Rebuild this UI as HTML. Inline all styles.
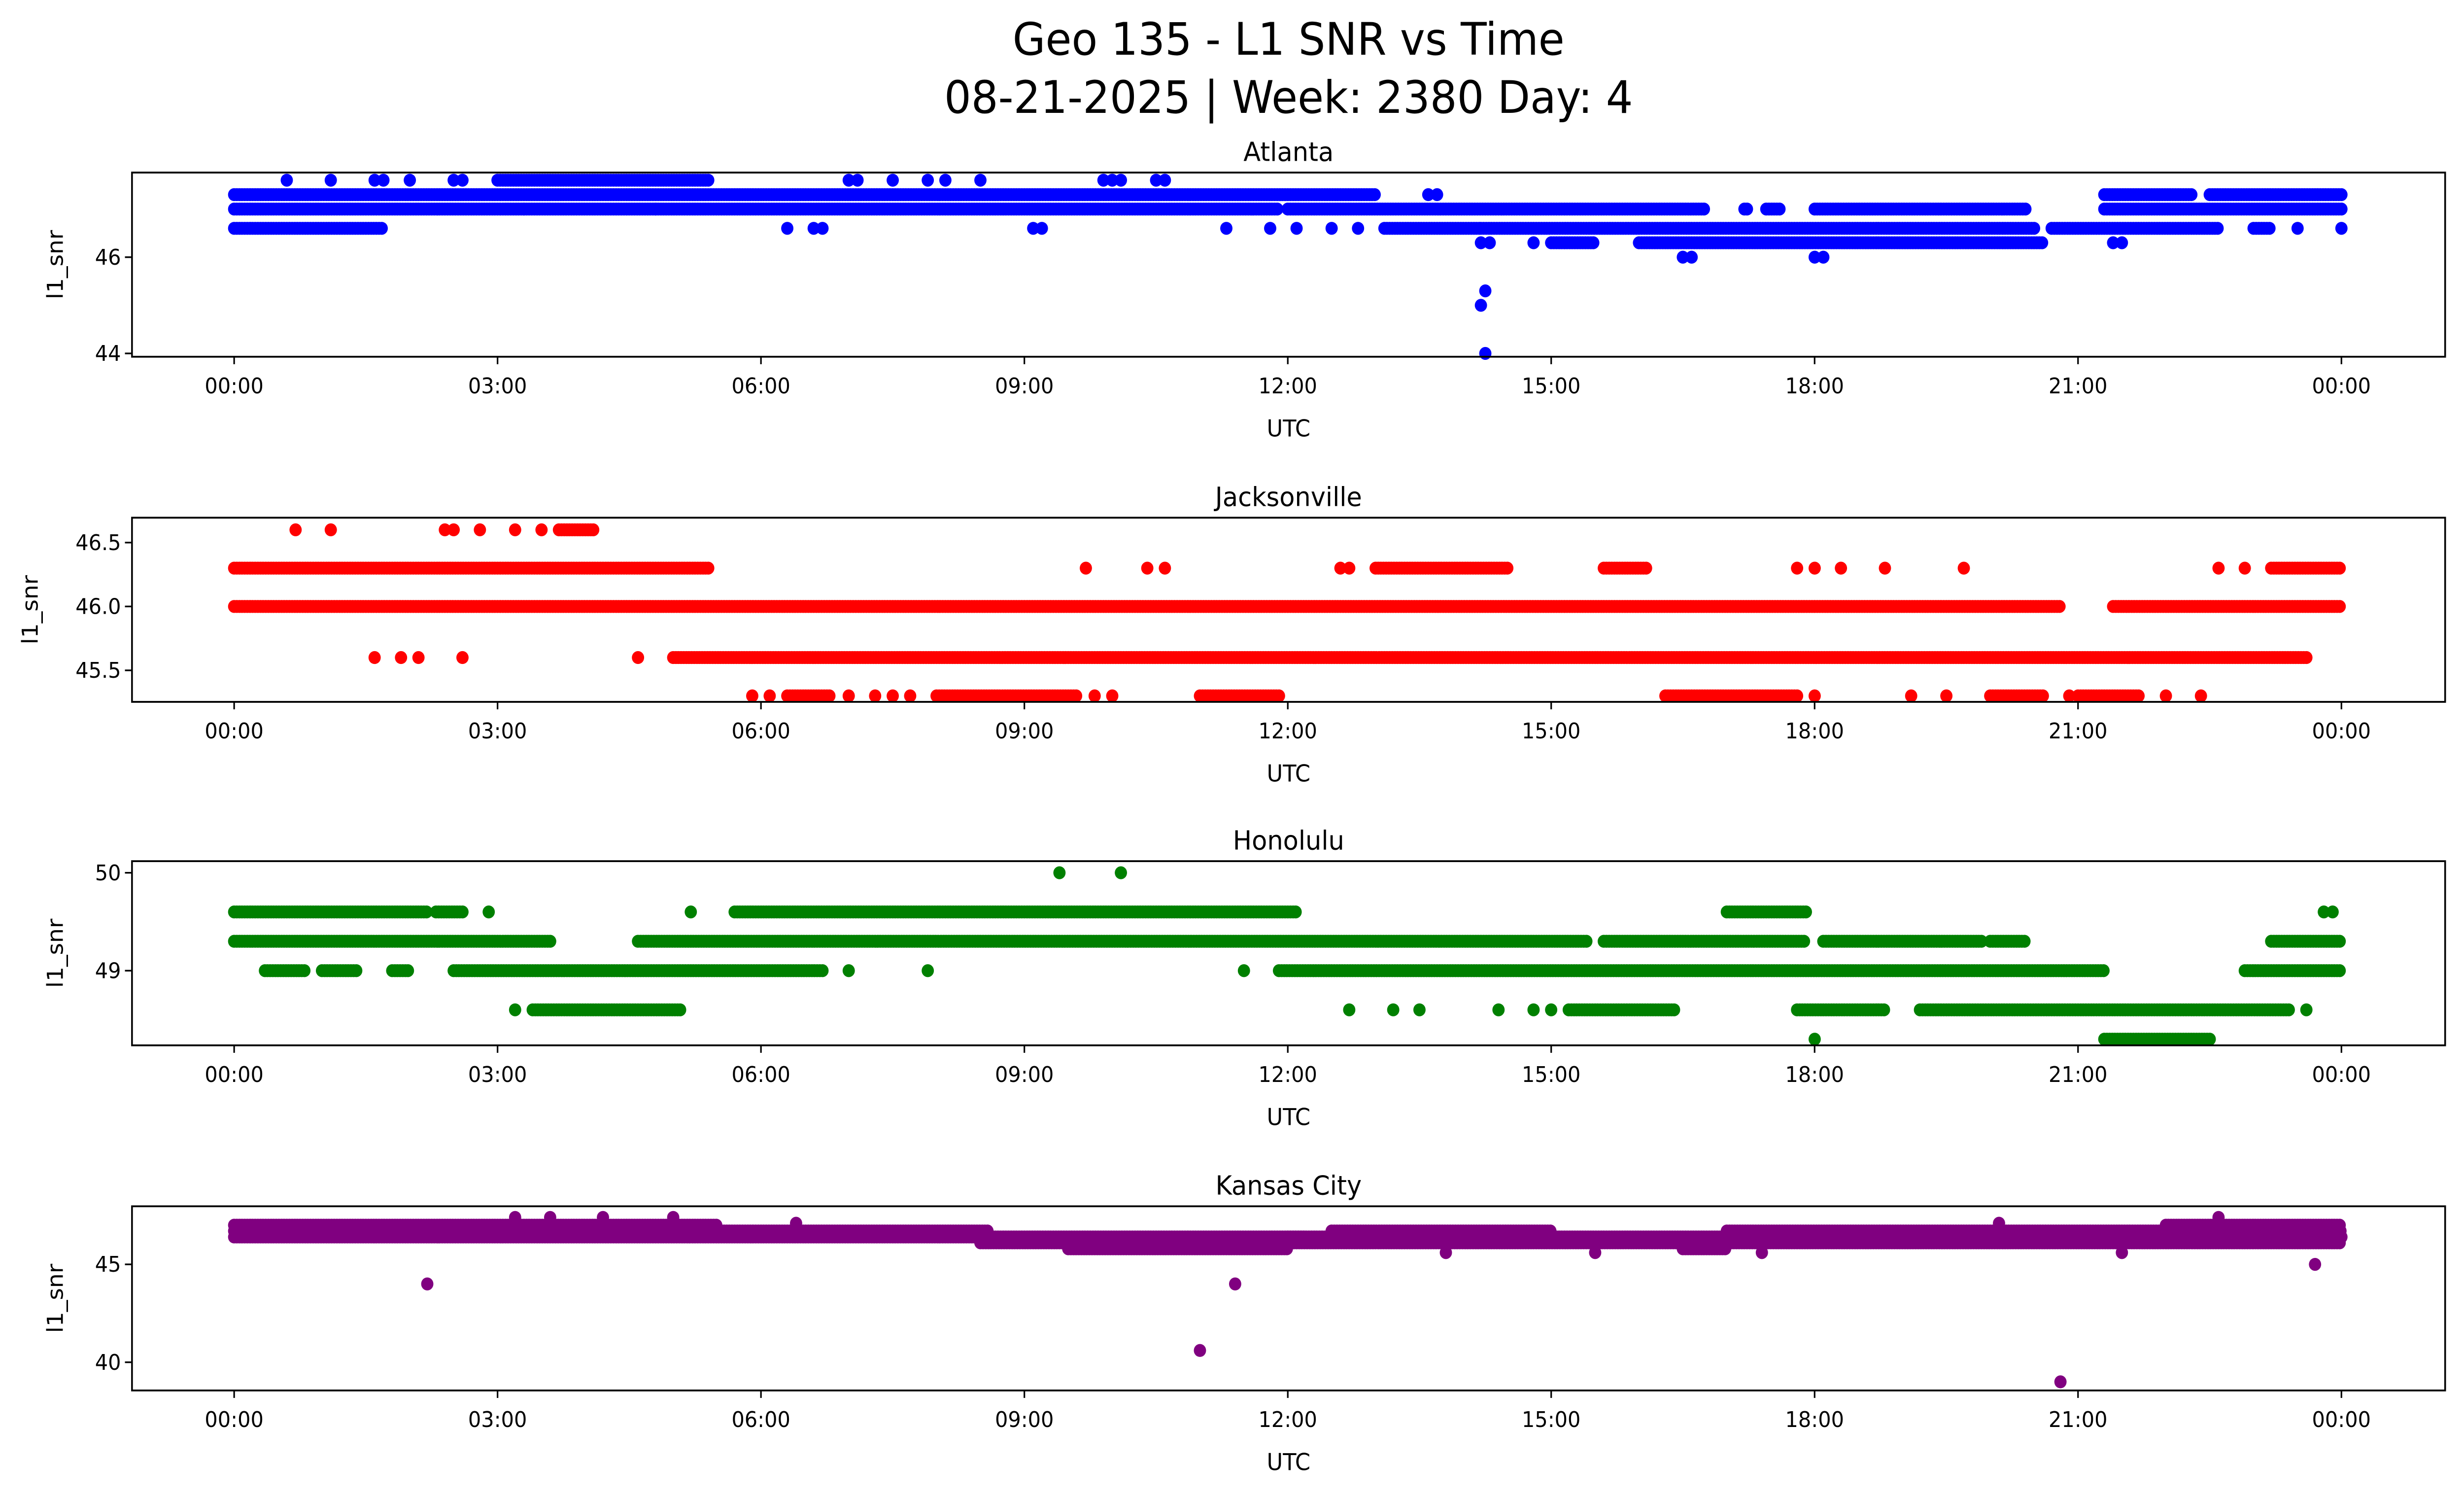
<!DOCTYPE html>
<html><head><meta charset="utf-8"><style>
html,body{margin:0;padding:0;background:#fff;overflow:hidden;width:100%;height:100%;}
svg{display:block;width:100vw;height:100vh;overflow:hidden;font-family:"DejaVu Sans","Liberation Sans",sans-serif;}
</style></head><body>
<svg id="chart" viewBox="0 0 1568 901" preserveAspectRatio="none" xmlns="http://www.w3.org/2000/svg">
<text x="820" y="33" font-size="27" text-anchor="middle">Geo 135 - L1 SNR vs Time</text>
<text x="820" y="68" font-size="27" text-anchor="middle">08-21-2025 | Week: 2380 Day: 4</text>
<g id="plots"></g>
</svg>
<script>
// Segments: [level, startHour, endHour]; single points: [hour, level]
const atlantaSegments = [[47.0,0,11.9],[47.0,12.0,16.75],[47.0,17.2,17.25],[47.0,17.45,17.6],[47.0,18.0,20.4],[47.0,21.3,24],
 [47.3,0,13.0],[47.3,21.3,22.3],[47.3,22.5,24],[47.6,3.0,5.4],
 [46.6,13.1,14.2],[46.6,14.2,20.5],[46.6,20.7,22.6],[46.6,23.0,23.2],
 [46.3,15.0,15.5],[46.3,16.0,20.6],[46.6,0,1.7]];
const atlantaPoints = [[0.6,47.6],[1.1,47.6],[1.6,47.6],[1.7,47.6],[2.0,47.6],[2.5,47.6],[2.6,47.6],[7.0,47.6],[7.1,47.6],[7.5,47.6],[7.9,47.6],[8.1,47.6],[8.5,47.6],[9.9,47.6],[10.0,47.6],[10.1,47.6],[10.5,47.6],[10.6,47.6],[13.6,47.3],[13.7,47.3],
 [6.3,46.6],[6.6,46.6],[6.7,46.6],[9.1,46.6],[9.2,46.6],[11.3,46.6],[11.8,46.6],[12.1,46.6],[12.5,46.6],[12.8,46.6],[23.5,46.6],[24,46.6],
 [4.8,47.0],[3.3,47.0],[14.2,46.3],[14.3,46.3],[14.8,46.3],[21.4,46.3],[21.5,46.3],[16.5,46.0],[16.6,46.0],[18.0,46.0],[18.1,46.0],
 [14.2,45.0],[14.25,45.3],[14.25,44.0]];
const jaxSegments = [[46.3,0,5.4],[46.3,13.0,14.5],[46.3,15.6,16.1],[46.3,23.2,24],[46.0,0,20.8],[46.0,21.4,24],[46.6,3.7,4.1],
 [45.6,5.0,23.6],[45.3,6.3,6.8],[45.3,8.0,9.6],[45.3,11.0,11.9],[45.3,16.3,17.8],[45.3,20.0,20.6],[45.3,21.0,21.7]];
const jaxPoints = [[9.7,46.3],[10.4,46.3],[10.6,46.3],[12.6,46.3],[12.7,46.3],[17.8,46.3],[18.0,46.3],[18.3,46.3],[18.8,46.3],[19.7,46.3],[22.6,46.3],[22.9,46.3],
 [0.7,46.6],[1.1,46.6],[2.4,46.6],[2.5,46.6],[2.8,46.6],[3.2,46.6],[3.5,46.6],
 [1.6,45.6],[1.9,45.6],[2.1,45.6],[2.6,45.6],[4.6,45.6],
 [5.9,45.3],[6.1,45.3],[7.0,45.3],[7.3,45.3],[7.5,45.3],[7.7,45.3],[9.8,45.3],[10.0,45.3],[18.0,45.3],[19.1,45.3],[19.5,45.3],[20.9,45.3],[22.0,45.3],[22.4,45.3]];
const honoSegments = [[49.6,0,2.2],[49.6,2.3,2.6],[49.6,5.7,12.1],[49.6,17.0,17.9],[49.3,0,3.6],[49.3,4.6,15.4],[49.3,15.6,17.9],[49.3,18.1,19.9],[49.3,20.0,20.4],[49.3,23.2,24],
 [49.0,0.35,0.8],[49.0,1.0,1.4],[49.0,1.8,2.0],[49.0,2.5,6.7],[49.0,11.9,21.3],[49.0,22.9,24],
 [48.6,3.4,5.1],[48.6,15.2,16.4],[48.6,17.8,18.8],[48.6,19.2,23.4],[48.3,21.3,22.5]];
const honoPoints = [[2.9,49.6],[5.2,49.6],[23.8,49.6],[23.9,49.6],[7.0,49.0],[7.9,49.0],[11.5,49.0],[3.2,48.6],[12.7,48.6],[13.2,48.6],[13.5,48.6],[14.4,48.6],[14.8,48.6],[15.0,48.6],[23.6,48.6],[18.0,48.3],[9.4,50.0],[10.1,50.0]];
const kcSegments = [[47.0,0,5.5],[47.0,22.0,24],[46.7,0,8.6],[46.7,12.5,15.0],[46.7,17.0,24],[46.4,0,12.2],[46.4,12.0,24],[46.1,8.5,24],[45.8,9.5,12.0],[45.8,16.5,17.0]];
const kcPoints = [[3.2,47.4],[3.6,47.4],[4.2,47.4],[5.0,47.4],[6.4,47.1],[20.1,47.1],[22.6,47.4],[13.8,45.6],[17.4,45.6],[21.5,45.6],[15.5,45.6],[2.2,44.0],[11.0,40.6],[11.4,44.0],[20.8,39.0],[23.7,45.0]];

const panels = [
 {name:'Atlanta',color:'#0000ff',top:104,bottom:215,v1:46,y1:155,v2:44,y2:213,ticks:[44,46],fmt:v=>v,seg:atlantaSegments,pts:atlantaPoints},
 {name:'Jacksonville',color:'#ff0000',top:312,bottom:423,v1:46.5,y1:327,v2:45.5,y2:404,ticks:[45.5,46.0,46.5],fmt:v=>v.toFixed(1),seg:jaxSegments,pts:jaxPoints},
 {name:'Honolulu',color:'#008000',top:519,bottom:630,v1:50,y1:526,v2:49,y2:585,ticks:[49,50],fmt:v=>v,seg:honoSegments,pts:honoPoints},
 {name:'Kansas City',color:'#800080',top:727,bottom:838,v1:45,y1:762,v2:40,y2:821,ticks:[40,45],fmt:v=>v,seg:kcSegments,pts:kcPoints}
];
const xTickHours=[0,3,6,9,12,15,18,21,24];
const xTickLabels=['00:00','03:00','06:00','09:00','12:00','15:00','18:00','21:00','00:00'];
const NS='http://www.w3.org/2000/svg';
const X0=84,X1=1556;
const xs=h=>149+h*(1490-149)/24;
function mk(tag,attrs,parent){const e=document.createElementNS(NS,tag);for(const k in attrs)e.setAttribute(k,attrs[k]);parent.appendChild(e);return e;}
const root=document.getElementById('plots');
panels.forEach((p,pi)=>{
 const ys=v=>p.y1+(v-p.v1)*(p.y2-p.y1)/(p.v2-p.v1);
 const g=mk('g',{},root);
 
 
 const t=mk('text',{x:(X0+X1)/2,y:p.top-7,'font-size':16,'text-anchor':'middle'},g);t.textContent=p.name;
 
 
 const dots=mk('g',{fill:p.color},g);
 
 
 p.seg.forEach(s=>{for(let h=s[1];h<=s[2]+1e-9;h+=0.03){mk('circle',{cx:xs(h).toFixed(1),cy:ys(s[0]).toFixed(1),r:3.9},dots);}});
 p.pts.forEach(q=>{const c=mk('circle',{cx:xs(q[0]).toFixed(1),cy:ys(q[1]).toFixed(1),r:3.9},dots);
  
  });
 const fr=mk('rect',{x:X0,y:p.top,width:X1-X0,height:p.bottom-p.top,fill:'none',stroke:'#000','stroke-width':1.1},g);
 
 
 xTickHours.forEach((h,i)=>{mk('line',{x1:xs(h),x2:xs(h),y1:p.bottom,y2:p.bottom+4.5,stroke:'#000','stroke-width':1},g);
  const l=mk('text',{x:xs(h),y:p.bottom+22,'font-size':13,'text-anchor':'middle'},g);l.textContent=xTickLabels[i];
  
  });
 p.ticks.forEach(v=>{mk('line',{x1:X0-4.5,x2:X0,y1:ys(v),y2:ys(v),stroke:'#000','stroke-width':1},g);
  const l=mk('text',{x:X0-7,y:ys(v)+4.5,'font-size':13,'text-anchor':'end'},g);l.textContent=p.fmt(v);
  
  });
 const xl=mk('text',{x:(X0+X1)/2,y:p.bottom+48,'font-size':14,'text-anchor':'middle'},g);xl.textContent='UTC';
 
 
 const cy=(p.top+p.bottom)/2;
 const yl=mk('text',{x:0,y:0,'font-size':14,'text-anchor':'middle',transform:`translate(${pi==1?24:40},${cy}) rotate(-90)`},g);yl.textContent='l1_snr';
 
 
});
</script>
</body></html>
